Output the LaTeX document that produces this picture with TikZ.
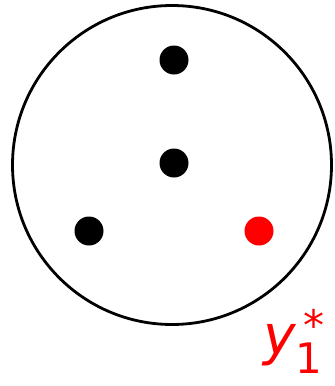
\documentclass[tikz,border=0pt]{standalone}
\usepackage{fontspec}
\newfontfamily\labelfont{DejaVu Sans}

\begin{document}
\begin{tikzpicture}[
  x=1pt, y=-1pt,
  ball/.style={circle, draw, line width=2.8pt, minimum size=319pt, inner sep=0pt},
  pt/.style={circle, fill=black, minimum size=29pt, inner sep=0pt},
  sel/.style={pt, fill=red}
]
  \useasboundingbox (0,0) rectangle (335,386);

  \node[ball] (B) at (172, 165) {};
  \node[pt]  (P1) at (174, 60)  {};
  \node[pt]  (P2) at (174, 163) {};
  \node[pt]  (P3) at (89, 231)  {};
  \node[sel] (Y)  at (259, 231) {};

  \node[red, anchor=base west, inner sep=0pt] (Ylab) at (263, 354)
    {\labelfont\fontsize{55}{55}\selectfont\itshape y\upshape\rlap{\raisebox{-19pt}{\fontsize{42}{42}\selectfont 1}}\hspace{8pt}\raisebox{13.5pt}{\fontsize{42}{42}\selectfont *}};
\end{tikzpicture}
\end{document}
